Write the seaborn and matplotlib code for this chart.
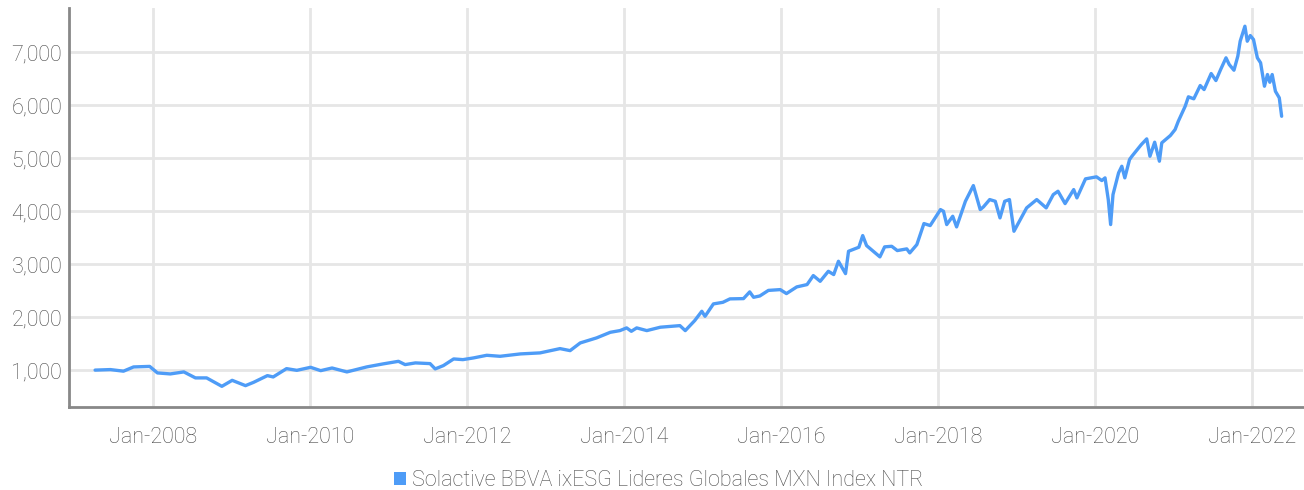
import pandas as pd
import numpy as np
import matplotlib.pyplot as plt
import matplotlib.dates as mdates
from matplotlib.patches import Patch
from matplotlib.ticker import FuncFormatter
import seaborn as sns

sns.set_style("whitegrid")
plt.rcParams['font.family'] = ['Roboto', 'DejaVu Sans']
plt.rcParams['font.weight'] = 'light'

series_name = "Solactive BBVA ixESG Lideres Globales MXN Index NTR"

# values (approximate)
dates = [
    "2007-04-05", "2007-06-15", "2007-08-15", "2007-10-01", "2007-12-15",
    "2008-01-20", "2008-03-20", "2008-05-22", "2008-07-15", "2008-09-05",
    "2008-11-15", "2009-01-02", "2009-03-05", "2009-04-12", "2009-06-15",
    "2009-07-12", "2009-09-12", "2009-10-30", "2010-01-02", "2010-02-18",
    "2010-04-12", "2010-06-20", "2010-08-15", "2010-09-20", "2010-12-05",
    "2011-02-15", "2011-03-18", "2011-05-05", "2011-07-12", "2011-08-05",
    "2011-09-12", "2011-10-30", "2011-12-12", "2012-01-30", "2012-04-01",
    "2012-06-02", "2012-09-05", "2012-12-05", "2013-03-08", "2013-04-24",
    "2013-06-10", "2013-08-25", "2013-10-28", "2013-12-12", "2014-01-12",
    "2014-02-03", "2014-02-28", "2014-04-16", "2014-06-18", "2014-09-17",
    "2014-10-12", "2014-11-25", "2014-12-28", "2015-01-12", "2015-02-20",
    "2015-04-05", "2015-05-08", "2015-07-10", "2015-08-08", "2015-08-26",
    "2015-09-24", "2015-11-03", "2015-12-28", "2016-01-26", "2016-03-14",
    "2016-05-01", "2016-05-30", "2016-07-01", "2016-08-08", "2016-09-02",
    "2016-09-24", "2016-10-27", "2016-11-10", "2016-12-28", "2017-01-15",
    "2017-02-02", "2017-04-05", "2017-04-27", "2017-05-30", "2017-06-25",
    "2017-08-08", "2017-08-22", "2017-09-24", "2017-10-27", "2017-11-25",
    "2018-01-12", "2018-01-26", "2018-02-10", "2018-03-10", "2018-03-28",
    "2018-05-08", "2018-06-14", "2018-07-16", "2018-07-31", "2018-08-29",
    "2018-09-24", "2018-10-16", "2018-11-07", "2018-11-29", "2018-12-20",
    "2019-02-17", "2019-04-05", "2019-05-19", "2019-06-21", "2019-07-13",
    "2019-08-15", "2019-09-24", "2019-10-09", "2019-11-18", "2020-01-08",
    "2020-02-02", "2020-02-17", "2020-03-03", "2020-03-14", "2020-03-25",
    "2020-04-20", "2020-05-05", "2020-05-19", "2020-06-10", "2020-06-21",
    "2020-08-04", "2020-08-29", "2020-09-13", "2020-10-05", "2020-10-27",
    "2020-11-07", "2020-12-17", "2021-01-08", "2021-01-23", "2021-02-24",
    "2021-03-11", "2021-04-05", "2021-05-05", "2021-05-23", "2021-06-25",
    "2021-07-17", "2021-08-08", "2021-09-02", "2021-09-17", "2021-10-09",
    "2021-10-27", "2021-11-07", "2021-11-29", "2021-12-10", "2021-12-24",
    "2022-01-08", "2022-01-26", "2022-02-10", "2022-02-28", "2022-03-14",
    "2022-03-25", "2022-04-05", "2022-04-20", "2022-05-08", "2022-05-19",
]
values = [
    1000, 1010, 980, 1060, 1070,
    947, 928, 966, 853, 853,
    694, 807, 707, 770, 896,
    871, 1028, 996, 1053, 990,
    1040, 966, 1023, 1060, 1117,
    1166, 1104, 1136, 1123, 1023,
    1085, 1211, 1198, 1230, 1280,
    1261, 1306, 1325, 1406, 1368,
    1513, 1608, 1714, 1746, 1797,
    1733, 1797, 1746, 1810, 1840,
    1746, 1935, 2111, 2016, 2250,
    2280, 2345, 2350, 2477, 2375,
    2400, 2505, 2520, 2445, 2571,
    2615, 2785, 2677, 2866, 2804,
    3055, 2822, 3244, 3320, 3540,
    3351, 3138, 3327, 3338, 3257,
    3289, 3213, 3370, 3767, 3729,
    4031, 3999, 3748, 3905, 3704,
    4188, 4484, 4031, 4082, 4220,
    4188, 3874, 4188, 4220, 3622,
    4063, 4220, 4063, 4314, 4377,
    4144, 4409, 4252, 4611, 4649,
    4579, 4630, 4220, 3748, 4314,
    4724, 4849, 4630, 4975, 5038,
    5259, 5366, 5038, 5303, 4944,
    5291, 5429, 5542, 5699, 5982,
    6160, 6122, 6373, 6297, 6600,
    6467, 6675, 6896, 6770, 6662,
    6927, 7210, 7493, 7210, 7317,
    7242, 6896, 6802, 6360, 6581,
    6435, 6581, 6265, 6141, 5793,
]

line_color = "#4e9cf7"
grid_color = "#e6e6e6"
text_color = "#4a4a4a"

df = pd.DataFrame({"date": pd.to_datetime(dates), "value": values})

fig = plt.figure(figsize=(13.04, 4.90), dpi=100)
ax = fig.add_axes([0.053, 0.169, 0.946, 0.815])

sns.lineplot(data=df, x="date", y="value", color=line_color, linewidth=2.4, ax=ax)

ax.set_xlim(pd.Timestamp("2006-12-05"), pd.Timestamp("2022-08-25"))
ax.set_ylim(300, 7840)
ax.set_yticks([1000, 2000, 3000, 4000, 5000, 6000, 7000])
ax.yaxis.set_major_formatter(FuncFormatter(lambda v, p: f"{int(v):,}"))
ax.xaxis.set_major_locator(mdates.YearLocator(2, month=1, day=1))
ax.xaxis.set_major_formatter(mdates.DateFormatter("%b-%Y"))

ax.grid(True, color=grid_color, linewidth=2)
ax.set_xlabel("")
ax.set_ylabel("")
ax.tick_params(axis="both", length=0, labelsize=15.5, colors=text_color)
ax.tick_params(axis="x", pad=14)
ax.tick_params(axis="y", pad=5)
for s in ["top", "right"]:
    ax.spines[s].set_visible(False)
for s in ["left", "bottom"]:
    ax.spines[s].set_color("#888888")
    ax.spines[s].set_linewidth(2)

handle = Patch(facecolor=line_color, edgecolor="none", label=series_name)
fig.legend(handles=[handle], loc="lower center", bbox_to_anchor=(0.505, -0.042),
           frameon=False, fontsize=15.5, labelcolor=text_color,
           handlelength=0.55, handleheight=0.55, handletextpad=0.3)

fig.savefig("out.png", dpi=100)
